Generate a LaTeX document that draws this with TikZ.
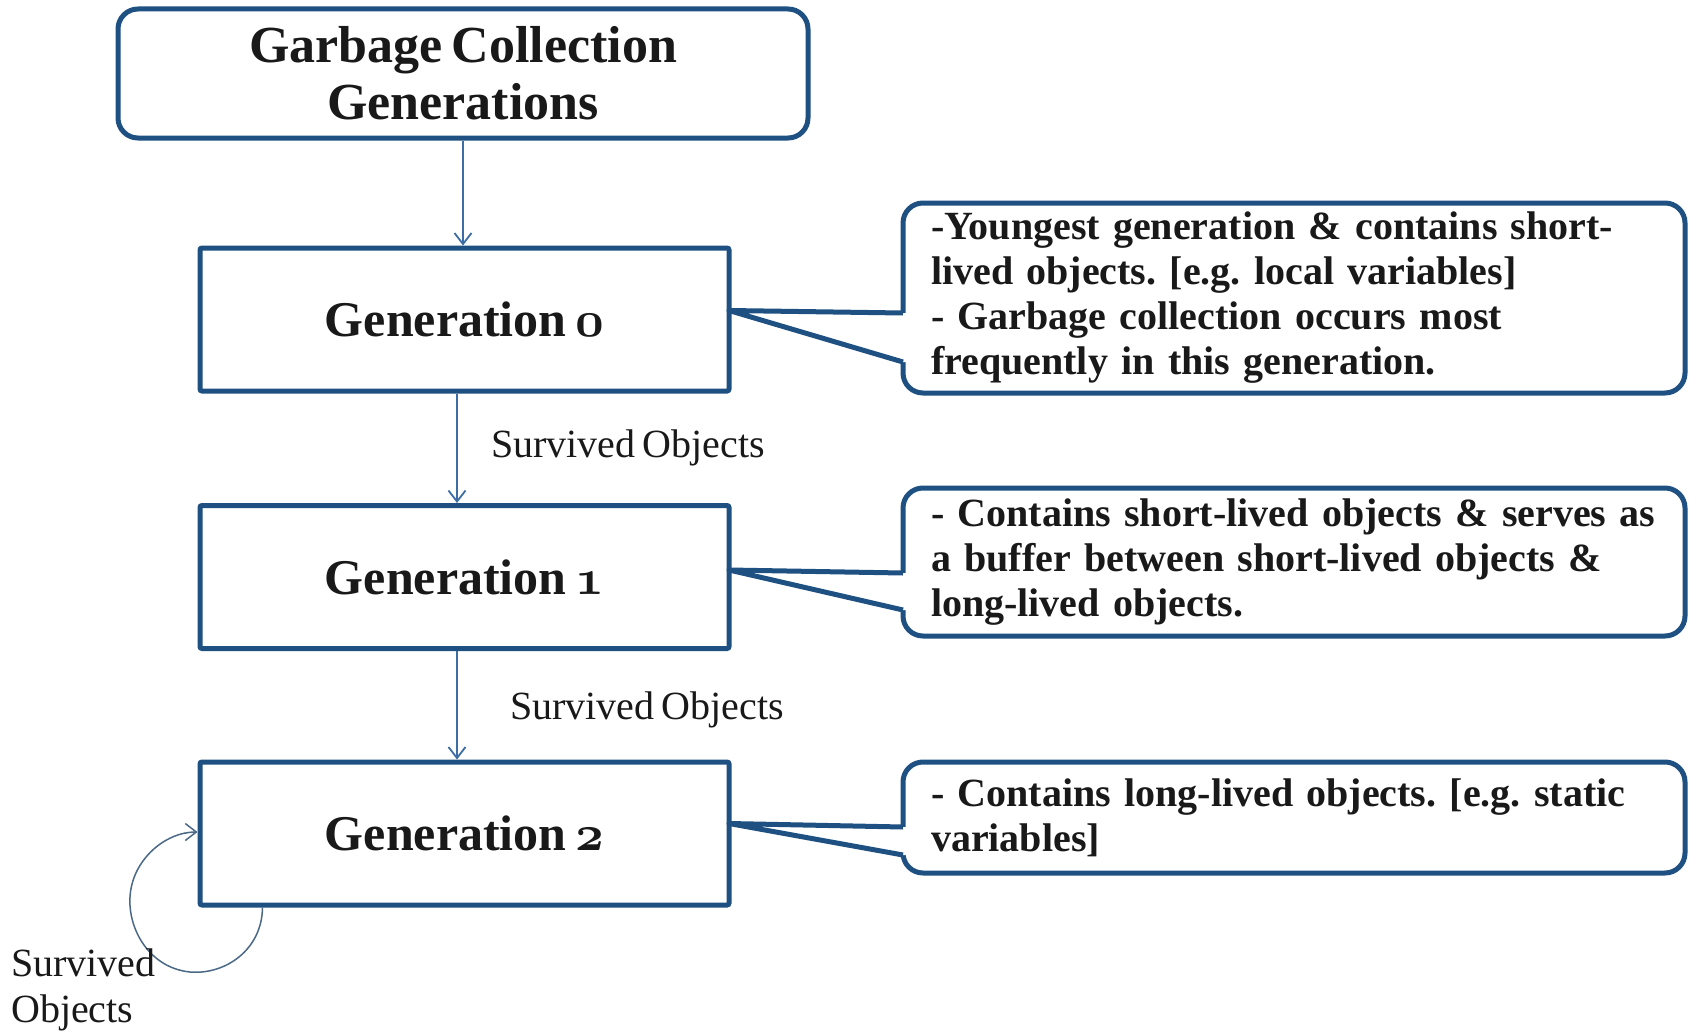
\documentclass[tikz,border=0pt]{standalone}
\usepackage{fontspec}
\setmainfont{Liberation Serif}[WordSpace=0.72,BoldFeatures={WordSpace=0.7}]
\usetikzlibrary{arrows.meta}
\definecolor{boxblue}{RGB}{31,80,130}
\definecolor{arrblue}{RGB}{60,110,165}
\definecolor{loopc}{RGB}{75,105,135}
\definecolor{txt}{RGB}{25,25,25}
\newcommand{\osn}[1]{\scalebox{2.01}{\fontsize{24.88}{30}\usefont{OML}{cmm}{b}{it}#1}}
\newcommand{\calloutfont}{\fontsize{40}{45}\selectfont\bfseries\frenchspacing}
\frenchspacing
\begin{document}
\begin{tikzpicture}[x=1pt,y=-1pt,
 genbox/.style={draw=boxblue,line width=5pt,fill=white,minimum width=529pt,minimum height=143pt,rounded corners=2pt,font=\fontsize{50}{56}\selectfont\bfseries,text=txt,inner sep=0pt},
 titlebox/.style={draw=boxblue,line width=5pt,rounded corners=20pt,minimum width=690pt,minimum height=129pt,align=center,font=\fontsize{52}{57}\selectfont\bfseries,text=txt,inner sep=0pt},
 callbox/.style={draw=boxblue,line width=5pt,rounded corners=20pt,fill=white,text width=726pt,inner xsep=28pt,inner ysep=0pt,align=left,font=\calloutfont,text=txt},
 flow/.style={draw=arrblue,line width=1.8pt,-{Straight Barb[length=11pt,width=17pt,line width=1.8pt]}},
 lab/.style={font=\fontsize{40}{46}\selectfont,text=txt,inner sep=0pt,anchor=west},
 ptr/.style={draw=boxblue,line width=5pt,line join=round}]

\useasboundingbox[fill=white] (0,0) rectangle (1689,1033);

\node[titlebox] (title) at (463,73.5) {Garbage Collection\\Generations};

\node[genbox] (g0) at (464.5,319.5) {Generation \osn{0}};
\node[genbox] (g1) at (464.5,577) {Generation \osn{1}};
\node[genbox] (g2) at (464.5,833.5) {Generation \osn{2}};

\node[callbox,minimum height=190pt] (c1) at (1294,298) {-Youngest generation \& contains short-\\lived objects. [e.g. local variables]\\- Garbage collection occurs most\\frequently in this generation.};
\node[callbox,minimum height=148pt] (c2) at (1294,562) {- Contains short-lived objects \& serves as\\a buffer between short-lived objects \&\\long-lived objects.};
\node[callbox,minimum height=111pt] (c3) at (1294,817.5) {- Contains long-lived objects. [e.g. static\\variables]};

% pointers
\coordinate (c1t) at (903,313); \coordinate (c1b) at (903,362);
\coordinate (c2t) at (903,573); \coordinate (c2b) at (903,610);
\coordinate (c3t) at (903,827); \coordinate (c3b) at (903,855);
\coordinate (p1) at ([xshift=-2.5pt,yshift=9pt]g0.east);
\coordinate (p2) at ([xshift=-2.5pt,yshift=7pt]g1.east);
\coordinate (p3) at ([xshift=-2.5pt,yshift=10pt]g2.east);

\fill[white] (p1) -- (c1t) -- ([xshift=5pt]c1t) -- ([xshift=5pt]c1b) -- (c1b) -- cycle;
\fill[white] (p2) -- (c2t) -- ([xshift=5pt]c2t) -- ([xshift=5pt]c2b) -- (c2b) -- cycle;
\fill[white] (p3) -- (c3t) -- ([xshift=5pt]c3t) -- ([xshift=5pt]c3b) -- (c3b) -- cycle;
\draw[ptr] (c1t) -- (p1) -- (c1b);
\draw[ptr] (c2t) -- (p2) -- (c2b);
\draw[ptr] (c3t) -- (p3) -- (c3b);

% flow arrows
\draw[flow] (title.south) -- (title.south |- g0.north);
\draw[flow] ([xshift=-7.5pt]g0.south) -- ([xshift=-7.5pt]g1.north);
\draw[flow] ([xshift=-7.5pt]g1.south) -- ([xshift=-7.5pt]g2.north);

\node[lab] (l1) at (491,448) {Survived Objects};
\node[lab] (l2) at (510,710) {Survived Objects};

% self loop
\draw[draw=loopc,line width=1.5pt,-{Straight Barb[length=11pt,width=17pt,line width=1.5pt]}]
  ([xshift=65pt]g2.south west) .. controls (262,950) and (225,975) .. (190,972)
  .. controls (150,968) and (128,930) .. (130,897)
  .. controls (132,860) and (165,832) .. ([yshift=1.5pt]g2.west);
\node[lab,align=left] (l3) at (11,990) {Survived\\Objects};
\end{tikzpicture}
\end{document}
